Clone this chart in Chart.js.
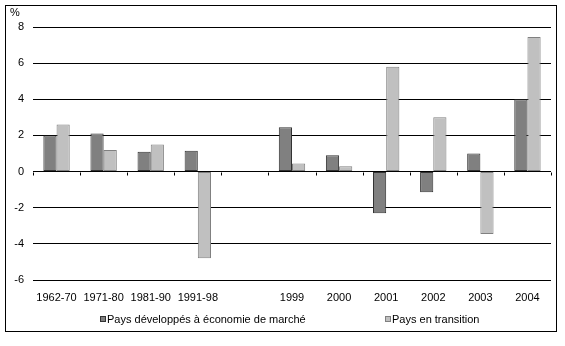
<!DOCTYPE html>
<html>
<head>
<meta charset="utf-8">
<script src="https://cdn.jsdelivr.net/npm/chart.js@4/dist/chart.umd.min.js"></script>
<style>
  body { margin: 0; background: #fff; }
</style>
</head>
<body>
<canvas id="chart" width="565" height="346"></canvas>
<script>
// periods, one empty slot separates the averages from the years
const categories = ['1962-70', '1971-80', '1981-90', '1991-98', '', '1999', '2000', '2001', '2002', '2003', '2004'];
const developed = [2.0, 2.1, 1.1, 1.15, null, 2.45, 0.9, -2.3, -1.15, 1.0, 4.0];
const transition = [2.6, 1.2, 1.5, -4.8, null, 0.45, 0.3, 5.8, 3.0, -3.45, 7.45];
const yTicks = [-6, -4, -2, 0, 2, 4, 6, 8];
const seriesNames = ['Pays développés à économie de marché', 'Pays en transition'];

const FONT = { family: 'Liberation Sans, Arial, sans-serif', size: 11 };

// frame, "%" label, tick marks on the zero line and the legend
const decor = {
  id: 'decor',
  beforeDraw(chart) {
    const c = chart.ctx;
    c.save();
    c.fillStyle = '#fff';
    c.fillRect(0, 0, chart.width, chart.height);
    c.strokeStyle = '#000';
    c.lineWidth = 1;
    c.strokeRect(5.5, 5.5, 551, 326);
    c.fillStyle = '#000';
    c.font = '11px ' + FONT.family;
    c.textBaseline = 'middle';
    c.fillText('%', 10, 13);
    c.restore();
  },
  afterDatasetsDraw(chart) {
    const c = chart.ctx;
    const x = chart.scales.x, y = chart.scales.y;
    const y0 = Math.round(y.getPixelForValue(0)) + 0.5;
    const n = categories.length;
    c.save();
    c.strokeStyle = '#000';
    c.lineWidth = 1;
    for (let i = 0; i <= n; i++) {
      const px = Math.round(x.left + i * (x.right - x.left) / n) + 0.5;
      c.beginPath();
      c.moveTo(px, y0);
      c.lineTo(px, y0 + 3);
      c.stroke();
    }
    // legend
    c.font = '11px ' + FONT.family;
    c.textBaseline = 'middle';
    const pos = [100, 385];
    chart.data.datasets.forEach((ds, i) => {
      c.fillStyle = ds.backgroundColor;
      c.strokeStyle = ds.borderColor;
      c.fillRect(pos[i], 316, 6, 6);
      c.strokeRect(pos[i] + 0.5, 316.5, 5, 5);
      c.fillStyle = '#000';
      c.fillText(ds.label, pos[i] + 7, 319.5);
    });
    c.restore();
  }
};

new Chart(document.getElementById('chart').getContext('2d'), {
  type: 'bar',
  data: {
    labels: categories,
    datasets: [
      { label: seriesNames[0], data: developed, backgroundColor: '#808080', borderColor: '#333333', borderWidth: 1, borderSkipped: false },
      { label: seriesNames[1], data: transition, backgroundColor: '#c0c0c0', borderColor: '#808080', borderWidth: 1, borderSkipped: false }
    ]
  },
  options: {
    responsive: false,
    animation: false,
    devicePixelRatio: 1,
    layout: { padding: { top: 27, right: 14, bottom: 0, left: 0 } },
    datasets: { bar: { categoryPercentage: 0.56, barPercentage: 1 } },
    plugins: { legend: { display: false }, tooltip: { enabled: false } },
    scales: {
      x: {
        grid: { display: false, drawTicks: false },
        border: { display: false },
        ticks: { color: '#000', font: FONT, padding: 11, maxRotation: 0, autoSkip: false },
        afterFit(s) { s.height = 66; }
      },
      y: {
        min: -6,
        max: 8,
        grid: { color: '#000', lineWidth: 1, drawTicks: false },
        border: { display: false },
        ticks: { color: '#000', font: FONT, padding: 9, stepSize: 2 },
        afterBuildTicks(s) { s.ticks = yTicks.map(v => ({ value: v })); },
        afterFit(s) { s.width = 33; }
      }
    }
  },
  plugins: [decor]
});
</script>
</body>
</html>
